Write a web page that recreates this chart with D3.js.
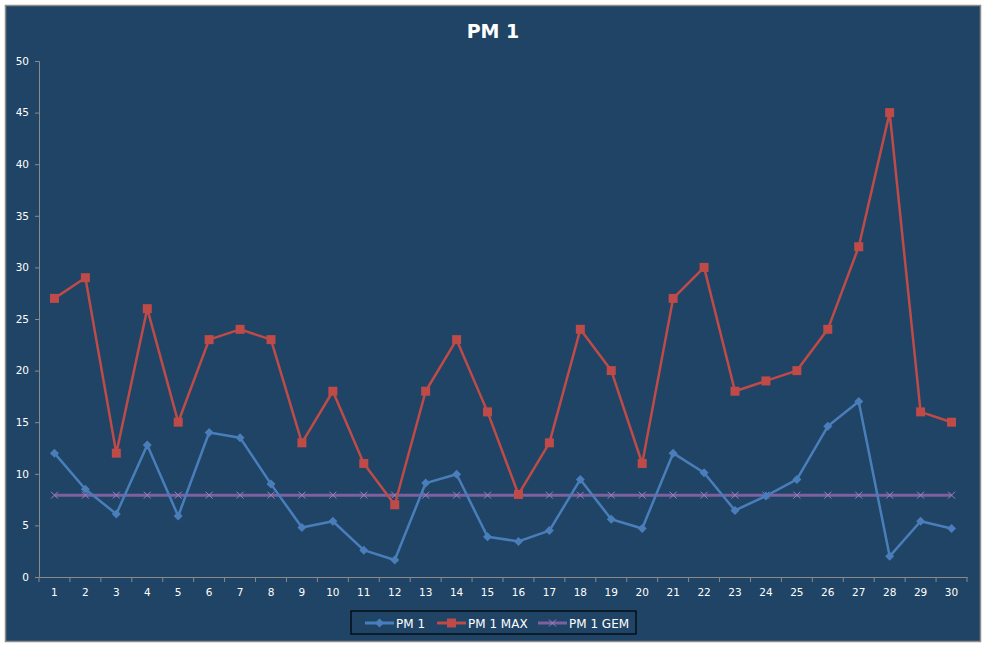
<!DOCTYPE html>
<html>
<head>
<meta charset="utf-8">
<script src="https://cdn.jsdelivr.net/npm/d3@7"></script>
<style>
  html, body { margin: 0; padding: 0; background: #fff; }
  svg { display: block; }
</style>
</head>
<body>
<svg id="chart" width="987" height="648"></svg>
<script>
// Chart data
const days = d3.range(1, 31);
const pm1 = [12, 8.5, 6.1, 12.8, 5.9, 14, 13.5, 9, 4.8, 5.4, 2.6, 1.65, 9.1, 9.95, 3.9, 3.45, 4.5, 9.45, 5.6, 4.7,
             12, 10.1, 6.45, 7.85, 9.45, 14.6, 17, 2, 5.4, 4.7];
const pm1Max = [27, 29, 12, 26, 15, 23, 24, 23, 13, 18, 11, 7, 18, 23, 16, 8, 13, 24, 20, 11,
                27, 30, 18, 19, 20, 24, 32, 45, 16, 15];
const pm1Gem = days.map(() => 7.93);
const yTicks = [0, 5, 10, 15, 20, 25, 30, 35, 40, 45, 50];
const seriesNames = ["PM 1", "PM 1 MAX", "PM 1 GEM"];

const colors = { blue: "#4A7EBB", red: "#BE4B48", purple: "#7D60A0" };
const font = "'DejaVu Sans', Verdana, sans-serif";

const svg = d3.select("#chart");

// Background panel
svg.append("rect")
    .attr("x", 5.5).attr("y", 5.5)
    .attr("width", 975).attr("height", 636)
    .attr("fill", "#1F4466")
    .attr("stroke", "#8C8C8C")
    .attr("stroke-width", 1.5);

// Title
svg.append("text")
    .attr("x", 493).attr("y", 38)
    .attr("text-anchor", "middle")
    .attr("fill", "#fff")
    .attr("font-family", "Tahoma, " + font)
    .attr("font-weight", "bold")
    .attr("font-size", 19)
    .text("PM 1");

const margin = { left: 39, right: 967, top: 61, bottom: 577 };

const x = d3.scaleBand().domain(days).range([margin.left, margin.right]);
const y = d3.scaleLinear().domain([0, 50]).range([margin.bottom, margin.top]);
const cx = d => x(d) + x.bandwidth() / 2;

// Y axis
const yAxis = svg.append("g")
    .attr("transform", `translate(${margin.left},0)`)
    .call(d3.axisLeft(y).tickValues(yTicks).tickSize(4).tickPadding(6));
// X axis
const xAxis = svg.append("g")
    .attr("transform", `translate(0,${margin.bottom})`)
    .call(d3.axisBottom(x).tickSize(0).tickPadding(12));

[yAxis, xAxis].forEach(g => {
    g.select(".domain").attr("stroke", "#8A8A8A").attr("stroke-width", 1);
    g.selectAll(".tick line").attr("stroke", "#8A8A8A");
    g.selectAll("text").attr("fill", "#fff").attr("font-family", font).attr("font-size", 10.5);
});

// X tick marks between categories
svg.append("g").selectAll("line")
    .data(d3.range(0, 31))
    .join("line")
    .attr("x1", i => margin.left + i * x.step())
    .attr("x2", i => margin.left + i * x.step())
    .attr("y1", margin.bottom)
    .attr("y2", margin.bottom + 5)
    .attr("stroke", "#8A8A8A");

const line = d3.line().x((d, i) => cx(days[i])).y(d => y(d));

// PM 1 GEM
svg.append("path").datum(pm1Gem)
    .attr("d", line).attr("fill", "none")
    .attr("stroke", colors.purple).attr("stroke-width", 3);
svg.append("g").selectAll("path")
    .data(pm1Gem)
    .join("path")
    .attr("d", "M-3.5,-3.5L3.5,3.5M-3.5,3.5L3.5,-3.5")
    .attr("transform", (d, i) => `translate(${cx(days[i])},${y(d)})`)
    .attr("stroke", "#9A7FC0").attr("stroke-width", 1).attr("fill", "none");

// PM 1 MAX
svg.append("path").datum(pm1Max)
    .attr("d", line).attr("fill", "none")
    .attr("stroke", colors.red).attr("stroke-width", 2.5)
    .attr("stroke-linejoin", "round");
svg.append("g").selectAll("rect")
    .data(pm1Max)
    .join("rect")
    .attr("x", (d, i) => cx(days[i]) - 4.5)
    .attr("y", d => y(d) - 4.5)
    .attr("width", 9).attr("height", 9)
    .attr("fill", colors.red);

// PM 1
svg.append("path").datum(pm1)
    .attr("d", line).attr("fill", "none")
    .attr("stroke", colors.blue).attr("stroke-width", 2.5)
    .attr("stroke-linejoin", "round");
svg.append("g").selectAll("path")
    .data(pm1)
    .join("path")
    .attr("d", "M0,-4.5L4.5,0L0,4.5L-4.5,0Z")
    .attr("transform", (d, i) => `translate(${cx(days[i])},${y(d)})`)
    .attr("fill", colors.blue);

// Legend
const legend = svg.append("g");
legend.append("rect")
    .attr("x", 351).attr("y", 611)
    .attr("width", 285).attr("height", 23)
    .attr("fill", "none").attr("stroke", "#000").attr("stroke-width", 1.2);

const legendItems = [
    { name: seriesNames[0], color: colors.blue, x0: 365, marker: "diamond" },
    { name: seriesNames[1], color: colors.red, x0: 437, marker: "square" },
    { name: seriesNames[2], color: colors.purple, x0: 538, marker: "cross" }
];
const ly = 623;
legendItems.forEach(it => {
    legend.append("line")
        .attr("x1", it.x0).attr("x2", it.x0 + 29)
        .attr("y1", ly).attr("y2", ly)
        .attr("stroke", it.color).attr("stroke-width", 3);
    const mx = it.x0 + 14.5;
    if (it.marker === "diamond") {
        legend.append("path").attr("d", "M0,-4.5L4.5,0L0,4.5L-4.5,0Z")
            .attr("transform", `translate(${mx},${ly})`).attr("fill", it.color);
    } else if (it.marker === "square") {
        legend.append("rect").attr("x", mx - 4.5).attr("y", ly - 4.5)
            .attr("width", 9).attr("height", 9).attr("fill", it.color);
    } else {
        legend.append("path").attr("d", "M-3.5,-3.5L3.5,3.5M-3.5,3.5L3.5,-3.5")
            .attr("transform", `translate(${mx},${ly})`)
            .attr("stroke", "#9A7FC0").attr("stroke-width", 1);
    }
    legend.append("text")
        .attr("x", it.x0 + 31).attr("y", ly + 4.5)
        .attr("fill", "#fff")
        .attr("font-family", font)
        .attr("font-size", 12)
        .text(it.name);
});
</script>
</body>
</html>
